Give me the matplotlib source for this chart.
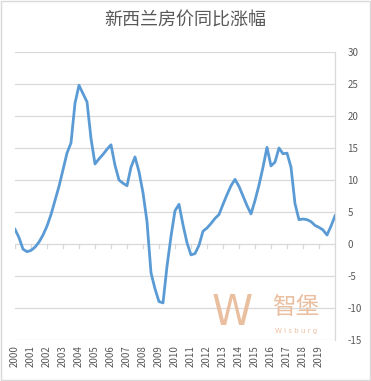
import numpy as np
import matplotlib.pyplot as plt

plt.rcParams['font.family'] = ['Noto Sans CJK SC', 'DejaVu Sans']

# quarterly YoY house price change, 2000Q1 .. 2020Q1
values = [2.3, 1.0, -0.8, -1.2, -1.0, -0.5, 0.3, 1.4, 2.8, 4.6,
          6.8, 9.0, 11.6, 14.2, 15.8, 22.0, 24.8, 23.5, 22.2, 16.5,
          12.5, 13.3, 14.0, 14.8, 15.5, 12.3, 10.0, 9.5, 9.1, 12.0,
          13.6, 11.3, 8.0, 3.5, -4.5, -7.0, -9.0, -9.2, -3.5, 1.2,
          5.2, 6.2, 3.0, 0.2, -1.7, -1.5, -0.2, 2.0, 2.5, 3.2,
          4.0, 4.6, 6.2, 7.7, 9.1, 10.1, 9.0, 7.5, 6.0, 4.7,
          6.8, 9.2, 12.0, 15.1, 12.2, 12.8, 15.0, 14.1, 14.2, 12.0,
          6.3, 3.8, 3.9, 3.8, 3.5, 2.9, 2.6, 2.2, 1.4, 2.8, 4.4]
years = list(range(2000, 2020))
yticks = list(range(-15, 35, 5))
title = '新西兰房价同比涨幅'

x = 2000 + np.arange(len(values)) / 4.0

fig = plt.figure(figsize=(3.71, 3.81), dpi=100)
ax = fig.add_axes([15/371, 41/381, 320/371, 288/381])

# gridlines
for yv in yticks:
    ax.axhline(yv, color='#D9D9D9', lw=0.9, zorder=0)
# tick marks on the zero line
for yr in years + [2020]:
    ax.plot([yr, yr], [0, -0.6], color='#D9D9D9', lw=0.9, zorder=0)

ax.plot(x, values, color='#5B9BD5', lw=2.0, solid_joinstyle='round', zorder=3)

ax.set_xlim(2000, 2020)
ax.set_ylim(-15, 30)
ax.set_xticks(years)
ax.set_xticklabels([str(y) for y in years], rotation=90, fontsize=7, color='#595959')
ax.set_yticks(yticks)
ax.set_yticklabels([str(v) for v in yticks], fontsize=7, color='#595959')
ax.yaxis.tick_right()
ax.tick_params(axis='x', length=0, pad=4)
ax.tick_params(axis='y', length=0, pad=9)
for s in ['top', 'left', 'bottom']:
    ax.spines[s].set_visible(False)
ax.spines['right'].set_color('#D9D9D9')
ax.spines['right'].set_linewidth(0.9)

fig.text(0.5, 1 - 21/381, title, ha='center', va='center', fontsize=13, color='#595959')

# watermark
wm = '#E8B896'
fig.text(232/371, 1 - 313/381, 'W', ha='center', va='center', fontsize=30, color=wm,
         family='DejaVu Sans', alpha=0.9)
fig.text(296/371, 1 - 308/381, '智堡', ha='center', va='center', fontsize=17, color=wm, alpha=0.9)
fig.text(296/371, 1 - 331/381, 'W i s b u r g', ha='center', va='center', fontsize=5, color=wm,
         family='DejaVu Sans', alpha=0.9)

# outer border
fig.add_artist(plt.Rectangle((0.003, 0.003), 0.994, 0.994, transform=fig.transFigure,
                             fill=False, edgecolor='#D9D9D9', lw=1))

fig.savefig('out.png', dpi=100)
